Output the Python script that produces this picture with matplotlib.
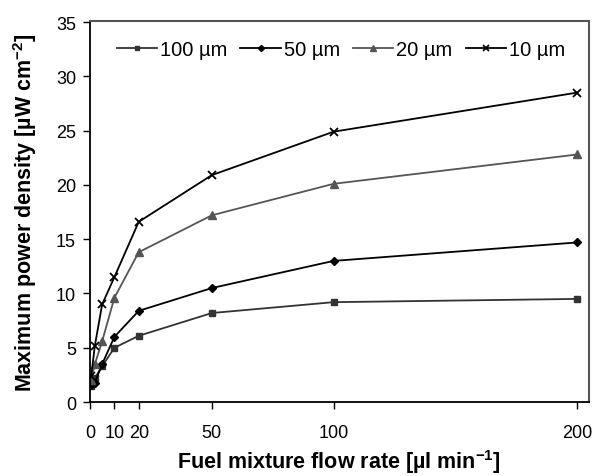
import matplotlib.pyplot as plt

plt.rcParams['font.family'] = ['Liberation Sans', 'DejaVu Sans']
plt.rcParams['mathtext.fontset'] = 'custom'
plt.rcParams['mathtext.rm'] = 'Liberation Sans'
plt.rcParams['mathtext.bf'] = 'Liberation Sans:bold'

# flow rate [ul/min]
flow = [0.5, 2, 5, 10, 20, 50, 100, 200]

p100 = [1.5, 2.2, 3.3, 5.0, 6.1, 8.2, 9.2, 9.5]
p50 = [1.6, 1.8, 3.5, 6.0, 8.4, 10.5, 13.0, 14.7]
p20 = [2.0, 3.5, 5.6, 9.6, 13.8, 17.2, 20.1, 22.8]
p10 = [2.4, 5.2, 9.0, 11.5, 16.6, 20.9, 24.9, 28.5]

xticks = [0, 10, 20, 50, 100, 200]
yticks = [0, 5, 10, 15, 20, 25, 30, 35]

fig = plt.figure(figsize=(5.96, 4.77), dpi=100)
ax = fig.add_axes([0.151, 0.155, 0.837, 0.799])

ax.plot(flow, p100, color='#333333', lw=1.3, marker='s', ms=5, label='100 µm')
ax.plot(flow, p50, color='black', lw=1.3, marker='D', ms=4.5, label='50 µm')
ax.plot(flow, p20, color='#555555', lw=1.3, marker='^', ms=6, label='20 µm')
ax.plot(flow, p10, color='black', lw=1.3, marker='x', ms=6, mew=1.3, label='10 µm')

ax.set_xlim(0, 204.8)
ax.set_ylim(0, 35.1)
ax.set_xticks(xticks)
ax.set_yticks(yticks)
ax.tick_params(direction='out', length=5, width=1, labelsize=13, pad=5)
ax.tick_params(axis='x', pad=10.5)

for s in ['left', 'bottom']:
    ax.spines[s].set_color('black')
    ax.spines[s].set_linewidth(1.3)
for s in ['top', 'right']:
    ax.spines[s].set_color('#555555')
    ax.spines[s].set_linewidth(1.5)

ax.set_xlabel(r'Fuel mixture flow rate [µl min$^{\mathbf{-1}}$]', fontsize=15.5, fontweight='bold', labelpad=5)
ax.set_ylabel(r'Maximum power density [µW cm$^{\mathbf{-2}}$]', fontsize=15.5, fontweight='bold', labelpad=12)

ax.legend(loc='center', bbox_to_anchor=(0.503, 0.926), ncol=4, frameon=False,
          fontsize=14.5, handlelength=2.0, columnspacing=0.65, handletextpad=0.15,
          markerscale=0.7)

plt.savefig('out.png', dpi=100)
